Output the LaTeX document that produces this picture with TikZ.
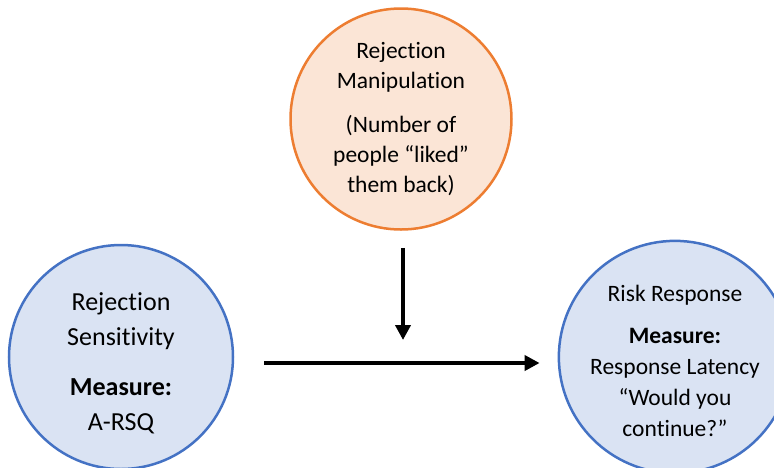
\documentclass[tikz,border=0pt]{standalone}
\usepackage{fontspec}
\setmainfont[RawFeature={-liga;-clig;-calt}]{Carlito}
\definecolor{boxblue}{HTML}{4472C4}
\definecolor{boxlightblue}{HTML}{DAE3F3}
\definecolor{boxorange}{HTML}{ED7D31}
\definecolor{boxlightorange}{HTML}{FBE5D6}
\usetikzlibrary{arrows.meta, positioning}

\begin{document}
\begin{tikzpicture}[x=1pt, y=-1pt,
    bluecirc/.style={circle, draw=boxblue, fill=boxlightblue, line width=2.5pt,
      minimum size=224pt, inner sep=0pt, align=center},
    orangecirc/.style={circle, draw=boxorange, fill=boxlightorange, line width=2.5pt,
      minimum size=221pt, inner sep=0pt, align=center},
    arr/.style={-{Triangle[length=15pt, width=15pt]}, line width=4pt}]
      \useasboundingbox (0,0) rectangle (774,467);

      % Circles
      \node[orangecirc, font=\fontsize{23.5}{30}\selectfont] (manip) at (401,119)
        {Rejection\\Manipulation\\[14pt](Number of\\people “liked”\\them back)};
      \node[bluecirc, font=\fontsize{26}{35}\selectfont] (sens) at (121,357)
        {\rule{0pt}{30pt}Rejection\\Sensitivity\\[15pt]\textbf{Measure:}\\A-RSQ};
      \node[bluecirc, font=\fontsize{23.5}{31}\selectfont] (risk) at (675,357)
        {\rule{0pt}{24pt}Risk Response\\[11pt]\textbf{Measure:}\\Response Latency\\“Would you\\continue?”};

      % Arrows
      \draw[arr, shorten <=30pt, shorten >=18pt] ([yshift=-6pt]sens.east) -- ([yshift=-6pt]risk.west);
      \coordinate (mid) at (403,363);
      \draw[arr, shorten <=17pt, shorten >=23pt] (manip.south -| mid) -- (mid);
    \end{tikzpicture}
\end{document}
